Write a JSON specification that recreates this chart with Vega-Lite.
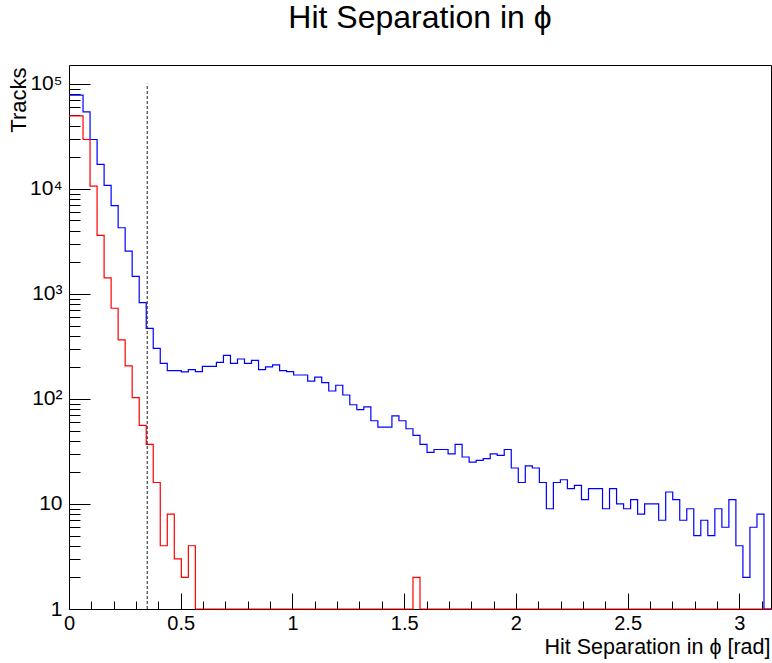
{
  "$schema": "https://vega.github.io/schema/vega-lite/v6.json",
  "autosize": {"type": "none"},
  "width": 702,
  "height": 544,
  "padding": {"left": 69, "top": 65, "right": 1, "bottom": 54},
  "background": "white",
  "title": {"text": "Hit Separation in ϕ", "fontSize": 32, "font": "Liberation Sans", "fontWeight": "normal", "anchor": "middle", "baseline": "alphabetic", "offset": 5, "color": "black"},
  "config": {
    "view": {"stroke": "black", "strokeWidth": 1},
    "axis": {"labelFont": "Liberation Sans", "titleFont": "Liberation Sans", "labelColor": "black", "titleColor": "black", "tickColor": "black", "domain": false, "grid": false, "titleFontWeight": "normal", "labelFlush": false, "labelOverlap": false}
  },
  "data": {"values": [
    {"phi": 0, "all": 78000, "sel": 49500},
    {"phi": 0.0314, "all": 78000, "sel": 49500},
    {"phi": 0.0628, "all": 54000, "sel": 29500},
    {"phi": 0.0942, "all": 29500, "sel": 10600},
    {"phi": 0.1257, "all": 17100, "sel": 3600},
    {"phi": 0.1571, "all": 10800, "sel": 1420},
    {"phi": 0.1885, "all": 6930, "sel": 730},
    {"phi": 0.2199, "all": 4260, "sel": 365},
    {"phi": 0.2513, "all": 2550, "sel": 206},
    {"phi": 0.2827, "all": 1470, "sel": 103},
    {"phi": 0.3142, "all": 826, "sel": 56},
    {"phi": 0.3456, "all": 470, "sel": 37},
    {"phi": 0.377, "all": 303, "sel": 16},
    {"phi": 0.4084, "all": 218, "sel": 4},
    {"phi": 0.4398, "all": 186, "sel": 8},
    {"phi": 0.4712, "all": 186, "sel": 3},
    {"phi": 0.5027, "all": 181, "sel": 2},
    {"phi": 0.5341, "all": 190, "sel": 4},
    {"phi": 0.5655, "all": 182, "sel": 0},
    {"phi": 0.5969, "all": 204, "sel": 0},
    {"phi": 0.6283, "all": 204, "sel": 0},
    {"phi": 0.6597, "all": 223, "sel": 0},
    {"phi": 0.6912, "all": 260, "sel": 0},
    {"phi": 0.7226, "all": 218, "sel": 0},
    {"phi": 0.754, "all": 240, "sel": 0},
    {"phi": 0.7854, "all": 218, "sel": 0},
    {"phi": 0.8168, "all": 233, "sel": 0},
    {"phi": 0.8482, "all": 190, "sel": 0},
    {"phi": 0.8796, "all": 202, "sel": 0},
    {"phi": 0.9111, "all": 211, "sel": 0},
    {"phi": 0.9425, "all": 186, "sel": 0},
    {"phi": 0.9739, "all": 182, "sel": 0},
    {"phi": 1.0053, "all": 169, "sel": 0},
    {"phi": 1.0367, "all": 169, "sel": 0},
    {"phi": 1.0681, "all": 148, "sel": 0},
    {"phi": 1.0996, "all": 161, "sel": 0},
    {"phi": 1.131, "all": 143, "sel": 0},
    {"phi": 1.1624, "all": 119, "sel": 0},
    {"phi": 1.1938, "all": 135, "sel": 0},
    {"phi": 1.2252, "all": 109, "sel": 0},
    {"phi": 1.2566, "all": 88, "sel": 0},
    {"phi": 1.2881, "all": 79, "sel": 0},
    {"phi": 1.3195, "all": 84, "sel": 0},
    {"phi": 1.3509, "all": 62, "sel": 0},
    {"phi": 1.3823, "all": 54, "sel": 0},
    {"phi": 1.4137, "all": 54, "sel": 0},
    {"phi": 1.4451, "all": 69, "sel": 0},
    {"phi": 1.4765, "all": 62, "sel": 0},
    {"phi": 1.508, "all": 52, "sel": 0},
    {"phi": 1.5394, "all": 45, "sel": 2},
    {"phi": 1.5708, "all": 37, "sel": 0},
    {"phi": 1.6022, "all": 31, "sel": 0},
    {"phi": 1.6336, "all": 33, "sel": 0},
    {"phi": 1.665, "all": 33, "sel": 0},
    {"phi": 1.6965, "all": 30, "sel": 0},
    {"phi": 1.7279, "all": 37, "sel": 0},
    {"phi": 1.7593, "all": 28, "sel": 0},
    {"phi": 1.7907, "all": 25, "sel": 0},
    {"phi": 1.8221, "all": 26, "sel": 0},
    {"phi": 1.8535, "all": 27, "sel": 0},
    {"phi": 1.885, "all": 30, "sel": 0},
    {"phi": 1.9164, "all": 29, "sel": 0},
    {"phi": 1.9478, "all": 33, "sel": 0},
    {"phi": 1.9792, "all": 22, "sel": 0},
    {"phi": 2.0106, "all": 16, "sel": 0},
    {"phi": 2.042, "all": 23, "sel": 0},
    {"phi": 2.0735, "all": 22, "sel": 0},
    {"phi": 2.1049, "all": 16, "sel": 0},
    {"phi": 2.1363, "all": 9, "sel": 0},
    {"phi": 2.1677, "all": 16, "sel": 0},
    {"phi": 2.1991, "all": 17, "sel": 0},
    {"phi": 2.2305, "all": 14, "sel": 0},
    {"phi": 2.2619, "all": 15, "sel": 0},
    {"phi": 2.2934, "all": 11, "sel": 0},
    {"phi": 2.3248, "all": 14, "sel": 0},
    {"phi": 2.3562, "all": 14, "sel": 0},
    {"phi": 2.3876, "all": 9, "sel": 0},
    {"phi": 2.419, "all": 14, "sel": 0},
    {"phi": 2.4504, "all": 10, "sel": 0},
    {"phi": 2.4819, "all": 9, "sel": 0},
    {"phi": 2.5133, "all": 11, "sel": 0},
    {"phi": 2.5447, "all": 8, "sel": 0},
    {"phi": 2.5761, "all": 10, "sel": 0},
    {"phi": 2.6075, "all": 10, "sel": 0},
    {"phi": 2.6389, "all": 7, "sel": 0},
    {"phi": 2.6704, "all": 13, "sel": 0},
    {"phi": 2.7018, "all": 11, "sel": 0},
    {"phi": 2.7332, "all": 7, "sel": 0},
    {"phi": 2.7646, "all": 9, "sel": 0},
    {"phi": 2.796, "all": 5, "sel": 0},
    {"phi": 2.8274, "all": 7, "sel": 0},
    {"phi": 2.8588, "all": 5, "sel": 0},
    {"phi": 2.8903, "all": 9, "sel": 0},
    {"phi": 2.9217, "all": 6, "sel": 0},
    {"phi": 2.9531, "all": 11, "sel": 0},
    {"phi": 2.9845, "all": 4, "sel": 0},
    {"phi": 3.0159, "all": 2, "sel": 0},
    {"phi": 3.0473, "all": 6, "sel": 0},
    {"phi": 3.0788, "all": 8, "sel": 0},
    {"phi": 3.1102, "all": 0, "sel": 0},
    {"phi": 3.1416, "all": 0, "sel": 0}
  ]},
  "layer": [
    {
      "mark": {"type": "line", "interpolate": "step-after", "color": "#0000ff", "strokeWidth": 1.2, "invalid": null},
      "encoding": {
        "x": {"field": "phi", "type": "quantitative", "scale": {"domain": [0, 3.1416], "nice": false, "zero": false},
          "axis": {"orient": "bottom", "values": [0, 0.5, 1, 1.5, 2, 2.5, 3], "format": "~g", "ticks": false, "labelFontSize": 20, "labelPadding": 4,
            "title": "Hit Separation in ϕ [rad]", "titleFontSize": 21.5, "titleAnchor": "end", "titleAlign": "right", "titleBaseline": "alphabetic", "titleX": 701, "titleY": 44}},
        "y": {"field": "all", "type": "quantitative", "scale": {"type": "log", "domain": [1, 151000], "nice": false, "clamp": true},
          "axis": {"orient": "left", "values": [1, 10, 100, 1000, 10000, 100000],
            "labelExpr": "datum.value == 1 ? '1' : datum.value == 10 ? '10' : datum.value == 100 ? '10²' : datum.value == 1000 ? '10³' : datum.value == 10000 ? '10⁴' : '10⁵'",
            "ticks": false, "labelFontSize": 21, "labelPadding": 7,
            "title": "Tracks", "titleFontSize": 22, "titleAngle": -90, "titleAlign": "right", "titleBaseline": "alphabetic", "titleX": -44, "titleY": 2}}
      }
    },
    {
      "mark": {"type": "line", "interpolate": "step-after", "color": "#ff0000", "strokeWidth": 1.2, "invalid": null},
      "encoding": {
        "x": {"field": "phi", "type": "quantitative",
          "axis": {"orient": "bottom", "values": [0, 0.5, 1, 1.5, 2, 2.5, 3], "labels": false, "tickSize": -16, "title": null}},
        "y": {"field": "sel", "type": "quantitative",
          "axis": {"orient": "left", "values": [1, 10, 100, 1000, 10000, 100000], "labels": false, "tickSize": -21, "title": null}}
      }
    },
    {
      "data": {"values": [{"cut": 0.35, "lo": 1, "hi": 100000}]},
      "mark": {"type": "rule", "color": "#222222", "strokeWidth": 1, "strokeDash": [3, 2]},
      "encoding": {
        "x": {"field": "cut", "type": "quantitative",
          "axis": {"orient": "bottom", "values": [0.1, 0.2, 0.3, 0.4, 0.6, 0.7, 0.8, 0.9, 1.1, 1.2, 1.3, 1.4, 1.6, 1.7, 1.8, 1.9, 2.1, 2.2, 2.3, 2.4, 2.6, 2.7, 2.8, 2.9, 3.1], "labels": false, "tickSize": -8, "title": null}},
        "y": {"field": "lo", "type": "quantitative",
          "axis": {"orient": "left", "values": [2, 3, 4, 5, 6, 7, 8, 9, 20, 30, 40, 50, 60, 70, 80, 90, 200, 300, 400, 500, 600, 700, 800, 900, 2000, 3000, 4000, 5000, 6000, 7000, 8000, 9000, 20000, 30000, 40000, 50000, 60000, 70000, 80000, 90000], "labels": false, "tickSize": -11, "title": null}},
        "y2": {"field": "hi"}
      }
    }
  ],
  "resolve": {"axis": {"x": "independent", "y": "independent"}}
}
